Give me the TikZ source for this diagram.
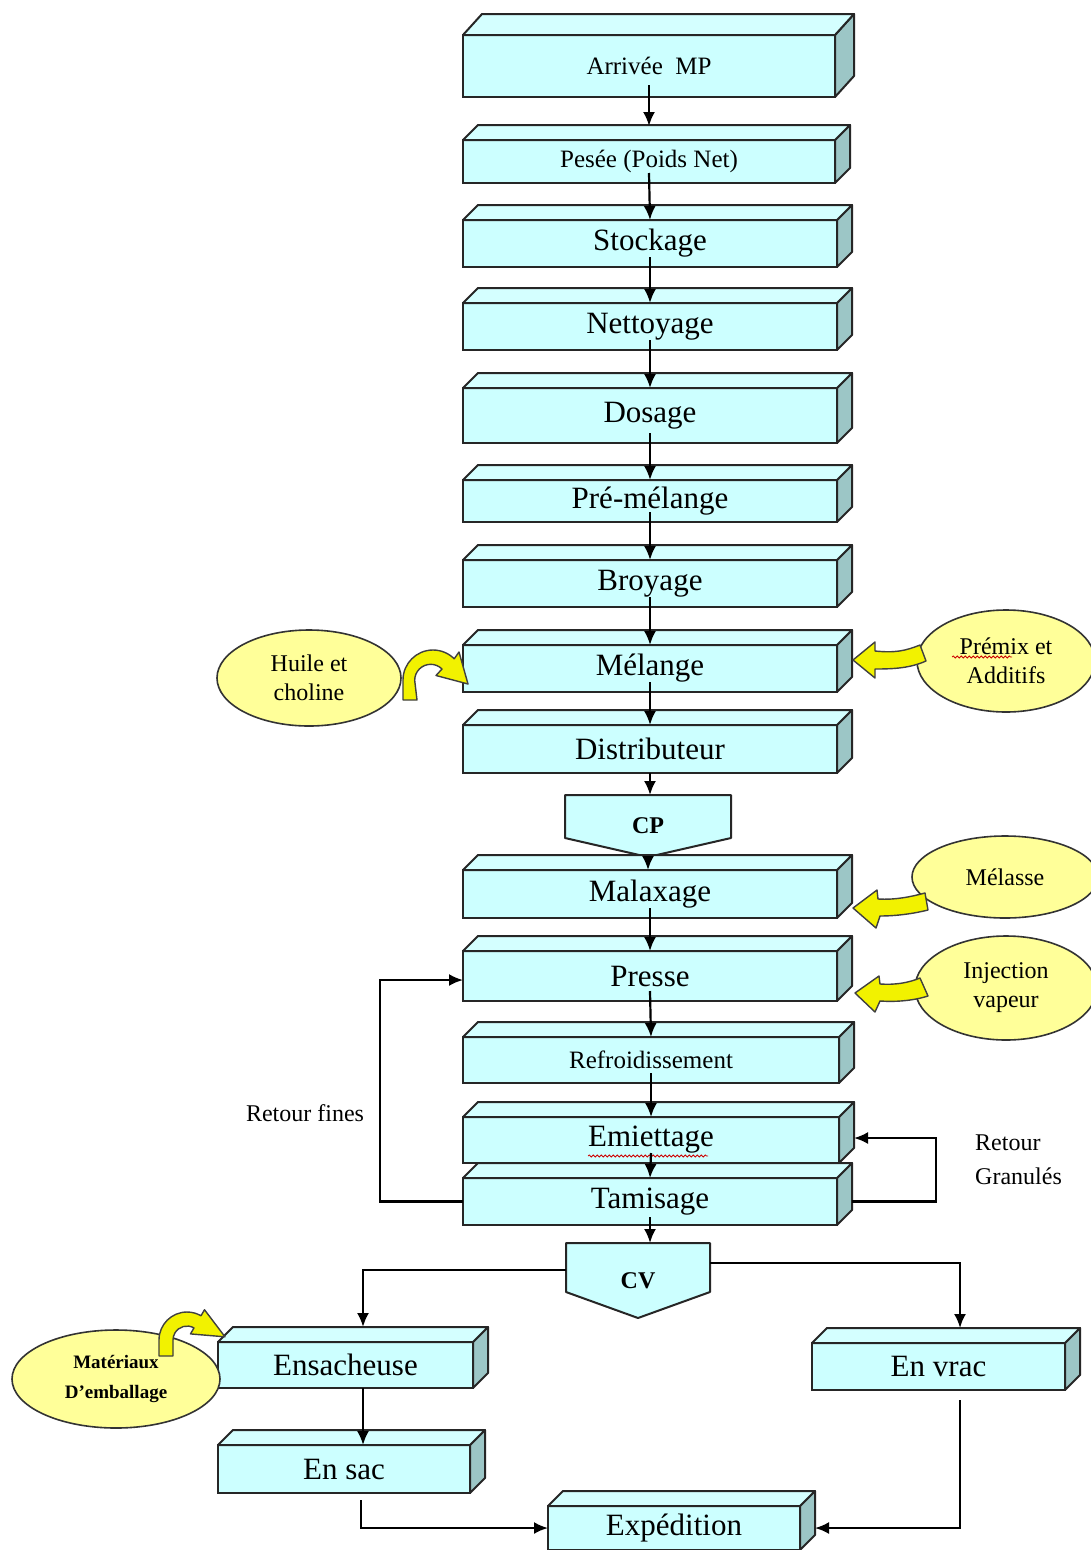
\documentclass[tikz,border=0pt]{standalone}
\usepackage{fontspec}
\setmainfont{Liberation Serif}
\usetikzlibrary{arrows.meta,calc,shapes.geometric,decorations.pathmorphing}
\definecolor{frontc}{HTML}{CCFFFF}
\definecolor{topc}{HTML}{D4FFFF}
\definecolor{sidec}{HTML}{9CC6C6}
\definecolor{ellc}{HTML}{FFFF99}
\definecolor{yarrc}{HTML}{F2F200}
\newcommand\extrude[3]{%
  \draw[sideface] (#1.north east) -- ++(#2,-#3) -- ($(#1.south east)+(#2,-#3)$) -- (#1.south east) -- cycle;
  \draw[topface] (#1.north west) -- ++(#2,-#3) -- ($(#1.north east)+(#2,-#3)$) -- (#1.north east) -- cycle;}
\begin{document}
\begin{tikzpicture}[x=1pt,y=-1pt,
  procbox/.style={draw=black!85, line width=2pt, fill=frontc, inner sep=0pt, outer sep=0pt,
    font=\fontsize{31}{36}\selectfont, text=black},
  smallbox/.style={procbox, font=\fontsize{25}{30}\selectfont},
  sideface/.style={draw=black!85, line width=2pt, fill=sidec, line join=round},
  topface/.style={draw=black!85, line width=2pt, fill=topc, line join=round},
  pentbox/.style={draw=black!85, line width=2pt, fill=frontc, line join=round},
  pentlabel/.style={inner sep=0pt, outer sep=0pt, font=\fontsize{24}{28}\selectfont\bfseries, text=black},
  ellipsebox/.style={ellipse, draw=black!80, line width=1.6pt, fill=ellc, inner sep=0pt, align=center,
    font=\fontsize{24}{29}\selectfont, text=black},
  yarr/.style={fill=yarrc, draw=black!75, line width=1.4pt, line join=round},
  conn/.style={draw=black, line width=2.2pt, -{Latex[length=14pt,width=12pt]}},
  lbl/.style={inner sep=0pt, font=\fontsize{24}{34}\selectfont, text=black},
  squig/.style={draw=red!80!black, line width=0.8pt, decorate, decoration={snake, amplitude=1pt, segment length=4pt}}
]
\fill[white] (0,0) rectangle (1091,1550);
\path[use as bounding box] (0,0) rectangle (1091,1550);

% main column
\node[smallbox, minimum width=372pt, minimum height=62pt] (arr) at (649,66) {Arrivée\ \ MP};
\node[smallbox, minimum width=372pt, minimum height=43pt] (pes) at (649,161.5) {Pesée (Poids Net)};
\node[procbox, minimum width=374pt, minimum height=47pt] (sto) at (650,243.5) {Stockage};
\node[procbox, minimum width=374pt, minimum height=47pt] (net) at (650,326.5) {Nettoyage};
\node[procbox, minimum width=374pt, minimum height=55pt] (dos) at (650,415.5) {Dosage};
\node[procbox, minimum width=374pt, minimum height=42pt] (pre) at (650,501) {Pré-mélange};
\node[procbox, minimum width=374pt, minimum height=47pt] (bro) at (650,583.5) {Broyage};
\node[procbox, minimum width=374pt, minimum height=47pt] (mel) at (650,668.5) {Mélange};
\node[procbox, minimum width=374pt, minimum height=48pt] (dis) at (650,749) {Distributeur};
\draw[pentbox] (565,795) -- (731,795) -- (731,838) -- (648,857) -- (565,838) -- cycle;
\node[pentlabel, minimum width=166pt, minimum height=62pt] (cp) at (648,826) {CP};
\node[procbox, minimum width=374pt, minimum height=48pt] (mal) at (650,894) {Malaxage};
\node[procbox, minimum width=374pt, minimum height=50pt] (prs) at (650,976) {Presse};
\node[smallbox, minimum width=376pt, minimum height=46pt] (ref) at (651,1060) {Refroidissement};
\node[procbox, minimum width=376pt, minimum height=46pt] (emi) at (651,1140) {Emiettage};
\node[procbox, minimum width=374pt, minimum height=47pt] (tam) at (650,1201.5) {Tamisage};
\draw[pentbox] (566,1243) -- (710,1243) -- (710,1292) -- (638,1318) -- (566,1292) -- cycle;
\node[pentlabel, minimum width=144pt, minimum height=75pt] (cv) at (638,1280.5) {CV};
\node[procbox, minimum width=255pt, minimum height=46pt] (ens) at (345.5,1365) {Ensacheuse};
\node[procbox, minimum width=252pt, minimum height=48pt] (sac) at (344,1469) {En sac};
\node[procbox, minimum width=253pt, minimum height=47pt] (vrac) at (938.5,1366.5) {En vrac};
\node[procbox, minimum width=252pt, minimum height=44pt] (exp) at (674,1528) {Expédition};

% 3D faces
\extrude{arr}{19}{21}
\foreach \b in {pes,sto,net,dos,pre,bro,mel,dis,mal,prs,ref,emi,tam,ens,sac,vrac,exp}{\extrude{\b}{15}{15}}

% spell-check underlines
\draw[squig] (588,1156) -- (708,1156);

% ellipses
\node[ellipsebox, minimum width=184pt, minimum height=96pt] (huile) at (309,678) {Huile et\\choline};
\node[ellipsebox, minimum width=178pt, minimum height=102pt] (premix) at (1006,661) {Prémix et\\Additifs};
\node[ellipsebox, minimum width=186pt, minimum height=82pt] (melasse) at (1005,877) {Mélasse};
\node[ellipsebox, minimum width=182pt, minimum height=104pt] (inj) at (1006,988) {Injection\\vapeur};
\node[ellipsebox, minimum width=208pt, minimum height=98pt, font=\fontsize{19}{30}\selectfont\bfseries] (mat) at (116,1379) {Matériaux\\D'emballage};
\draw[squig] (952,657) -- (1012,657);

% yellow block arrows
\draw[yarr] (417,700) -- (403,700) -- (403,680) arc[start angle=180,end angle=315,radius=30]
  -- (459,652) -- (468,684) -- (436,675.5) -- (442,669)
  arc[start angle=315,end angle=180,radius=16] -- cycle;
\draw[yarr] (173,1356) -- (159,1356) -- (159,1340) arc[start angle=180,end angle=300,radius=28]
  -- (204.5,1309.7) -- (225,1336.8) -- (190.5,1333.9) -- (194,1327.9)
  arc[start angle=300,end angle=180,radius=14] -- cycle;
\draw[yarr] (853,660) -- (875,642) -- (875,651) .. controls (895,653) and (905,651) .. (920,645)
  -- (926,661) .. controls (910,668) and (895,669) .. (875,669) -- (875,678) -- cycle;
\draw[yarr] (853,908) -- (877,890) -- (878,899) .. controls (895,900) and (910,897) .. (925,893)
  -- (928,910) .. controls (912,914) and (895,916) .. (880,916) -- (876,928) -- cycle;
\draw[yarr] (855,993) -- (879,976) -- (880,984) .. controls (895,985) and (908,983) .. (920,978)
  -- (928,996) .. controls (912,1001) and (895,1002) .. (880,1001) -- (875,1012) -- cycle;

% main chain connectors
\draw[conn] ($(arr.south)+(0,-12)$) -- ($(pes.north)+(0,-14)$);
\foreach \a/\b in {pes/sto,sto/net,net/dos,dos/pre,pre/bro,bro/mel,mel/dis,mal/prs,prs/ref,ref/emi,emi/tam}{
  \draw[conn] ($(\a.south)+(0,-10)$) -- (\b.north);}
\draw[conn] (dis.south) -- (dis.south |- cp.north);
\draw[conn] (cp.south) -- (cp.south |- mal.north);
\draw[conn] ($(tam.south)+(0,-8)$) -- (tam.south |- cv.north);

% return loops
\draw[conn] (tam.west) -- ++(-83,0) |- ($(prs.west)+(0,4)$);
\draw[conn] ($(tam.east)+(15,0)$) -- ++(84,0) |- ($(emi.east)+(15,-2)$);
\node[lbl] (retf) at (305,1113) {Retour fines};
\node[lbl, align=left, anchor=west] (retg) at (975,1160) {Retour\\Granulés};

% bottom branches
\draw[conn] ($(cv.north west)+(0,27)$) -| ($(ens.north)+(17.5,-15)$);
\draw[conn] ($(cv.north east)+(0,20)$) -| ($(vrac.north)+(21.5,-15)$);
\draw[conn] ($(ens.south)+(17.5,0)$) -- ($(sac.north)+(19,0)$);
\draw[conn] ($(sac.south)+(17,7)$) |- (exp.west);
\draw[conn] ($(vrac.south)+(21.5,10)$) |- ($(exp.east)+(15,0)$);
\end{tikzpicture}
\end{document}
